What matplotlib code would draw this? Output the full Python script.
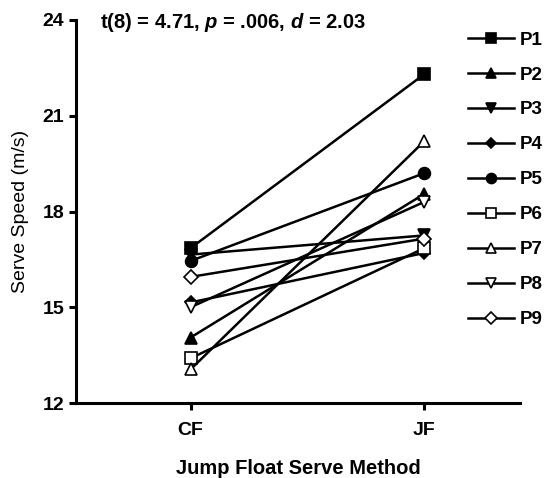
import matplotlib
matplotlib.use("Agg")
import matplotlib.pyplot as plt

plt.rcParams['font.family'] = ['Liberation Sans', 'DejaVu Sans']
plt.rcParams['mathtext.fontset'] = 'custom'
plt.rcParams['mathtext.it'] = 'Liberation Sans:italic:bold'
plt.rcParams['mathtext.rm'] = 'Liberation Sans:bold'

# data
conditions = ['CF', 'JF']
participants = ['P1', 'P2', 'P3', 'P4', 'P5', 'P6', 'P7', 'P8', 'P9']
cf_speed = [16.85, 14.05, 16.65, 15.15, 16.45, 13.4, 13.05, 15.0, 15.95]
jf_speed = [22.3, 18.55, 17.25, 16.7, 19.2, 16.85, 20.2, 18.3, 17.15]

# marker, filled?
markers = ['s', '^', 'v', 'D', 'o', 's', '^', 'v', 'D']
filled = [True, True, True, True, True, False, False, False, False]
msizes = [8, 8, 8, 6, 8.5, 9, 9, 9, 7]

fig = plt.figure(figsize=(5.46, 4.78), dpi=100)
ax = fig.add_axes([76/546, 75/478, 444/546, 383/478])

x = [0, 1]
for i, p in enumerate(participants):
    ax.plot(x, [cf_speed[i], jf_speed[i]], color='black', lw=1.8,
            marker=markers[i], markersize=msizes[i],
            markerfacecolor='black' if filled[i] else 'white',
            markeredgecolor='black', markeredgewidth=1.2, label=p,
            clip_on=False)

ax.set_xlim(-0.49, 1.41)
ax.set_ylim(12, 24)
ax.set_yticks([12, 15, 18, 21, 24])
ax.set_xticks(x)
ax.set_xticklabels(conditions)
ax.spines['top'].set_visible(False)
ax.spines['right'].set_visible(False)
for s in ['left', 'bottom']:
    ax.spines[s].set_linewidth(2.2)
ax.tick_params(width=2.2, length=5, labelsize=14)
ax.tick_params(axis='x', pad=9)
for lab in ax.get_xticklabels() + ax.get_yticklabels():
    lab.set_fontweight('bold')

ax.set_xlabel('Jump Float Serve Method', fontsize=14.5, fontweight='bold', labelpad=14)
ax.set_ylabel('Serve Speed (m/s)', fontsize=14, labelpad=10)

ax.text(0.054, 0.993, 't(8) = 4.71, $p$ = .006, $d$ = 2.03', transform=ax.transAxes,
        fontsize=14.5, fontweight='bold', va='center', ha='left')

fig.legend(loc='upper left', bbox_to_anchor=(460/546, 1 - 24/478), frameon=False,
           prop={'weight': 'bold', 'size': 13.5}, markerscale=0.85,
           handlelength=2.5, handletextpad=0.3, labelspacing=0.95, borderaxespad=0)

plt.savefig('out.png', dpi=100)
